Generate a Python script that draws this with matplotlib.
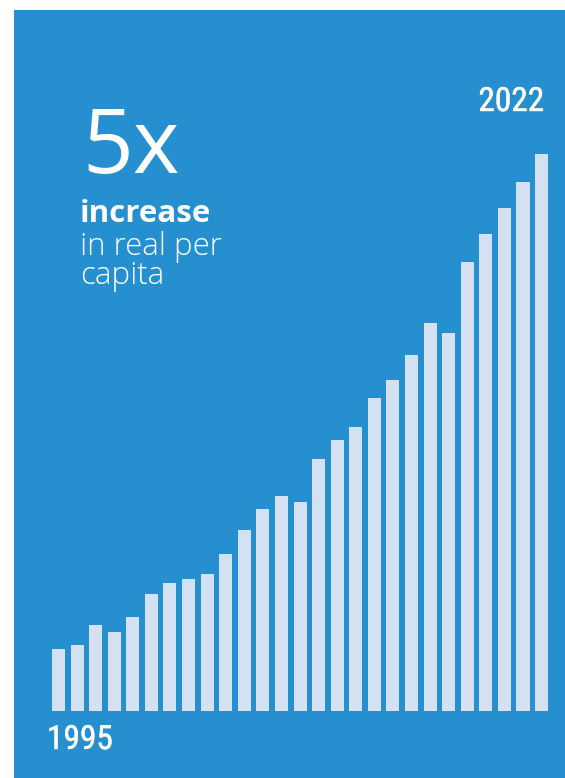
import matplotlib.pyplot as plt
from matplotlib.patches import Rectangle
from matplotlib import font_manager
import matplotlib.patheffects as pe

# bar heights (relative) - 27 bars from 1995 to 2022
values = [62, 66, 86, 79, 94, 117, 128, 132, 137, 157, 181, 202, 215, 209,
          252, 271, 284, 313, 331, 356, 388, 378, 449, 477, 503, 529, 557]
first_label = '1995'
last_label = '2022'
headline = '5x'
sub_bold = 'increase'
sub_lines = ['in real per', 'capita']

blue = '#258fd0'
bar_col = '#d4e1f2'

W, H = 565, 778
fig = plt.figure(figsize=(W / 100, H / 100), dpi=100)
fig.patch.set_facecolor('white')

# blue panel, behind everything
fig.patches.append(Rectangle((14 / W, 0), (W - 14) / W, (H - 10) / H,
                             transform=fig.transFigure, facecolor=blue,
                             edgecolor='none', zorder=-5))

# bars
pitch = 18.58
ax = fig.add_axes([(58.5 - pitch) / W, 67 / H, 28 * pitch / W, 600 / H])
ax.set_facecolor('none')
ax.bar(range(len(values)), values, width=0.7, color=bar_col, zorder=2)
ax.set_xlim(-1, 27)
ax.set_ylim(0, 600)
ax.axis('off')

# condensed font for the year labels, regular weight
fonts = [(f.name, f.weight, f.stretch) for f in font_manager.fontManager.ttflist]
cands = ['Noto Sans Condensed', 'Roboto Condensed', 'Open Sans Condensed',
         'Liberation Sans Narrow', 'DejaVu Sans Condensed', 'Noto Sans',
         'Open Sans', 'Roboto']
year_font, year_weight, year_size = 'Open Sans', 'normal', 21
found = False
for wt in [400, 500, 300]:
    for cand in cands:
        for name, w, st in fonts:
            cond = 'ondensed' in str(st) or 'Condensed' in name or 'Narrow' in name
            if name == cand and w == wt and cond:
                year_font, year_weight, year_size = cand, wt, 24
                found = True
                break
        if found:
            break
    if found:
        break

# slight thickening of the year labels
thick = [pe.withStroke(linewidth=0.3, foreground='white')]


def px(x, y):
    return x / W, 1 - y / H


fig.text(*px(82, 173), headline, family='Open Sans', fontsize=64,
         color='white', va='baseline', ha='left')
fig.text(*px(80, 222), sub_bold, family='Open Sans', fontweight='bold',
         fontsize=22.5, color='white', va='baseline', ha='left')
for i, line in enumerate(sub_lines):
    fig.text(*px(80, 255 + 29 * i), line, family='Open Sans', fontweight='light',
             fontsize=22.5, color='white', va='baseline', ha='left')

fig.text(*px(544, 111), last_label, family=year_font, fontweight=year_weight,
         fontstretch='condensed', fontsize=year_size, path_effects=thick,
         color='white', va='baseline', ha='right')
fig.text(*px(47, 749), first_label, family=year_font, fontweight=year_weight,
         fontstretch='condensed', fontsize=year_size, path_effects=thick,
         color='white', va='baseline', ha='left')

fig.savefig('out.png', dpi=100)
